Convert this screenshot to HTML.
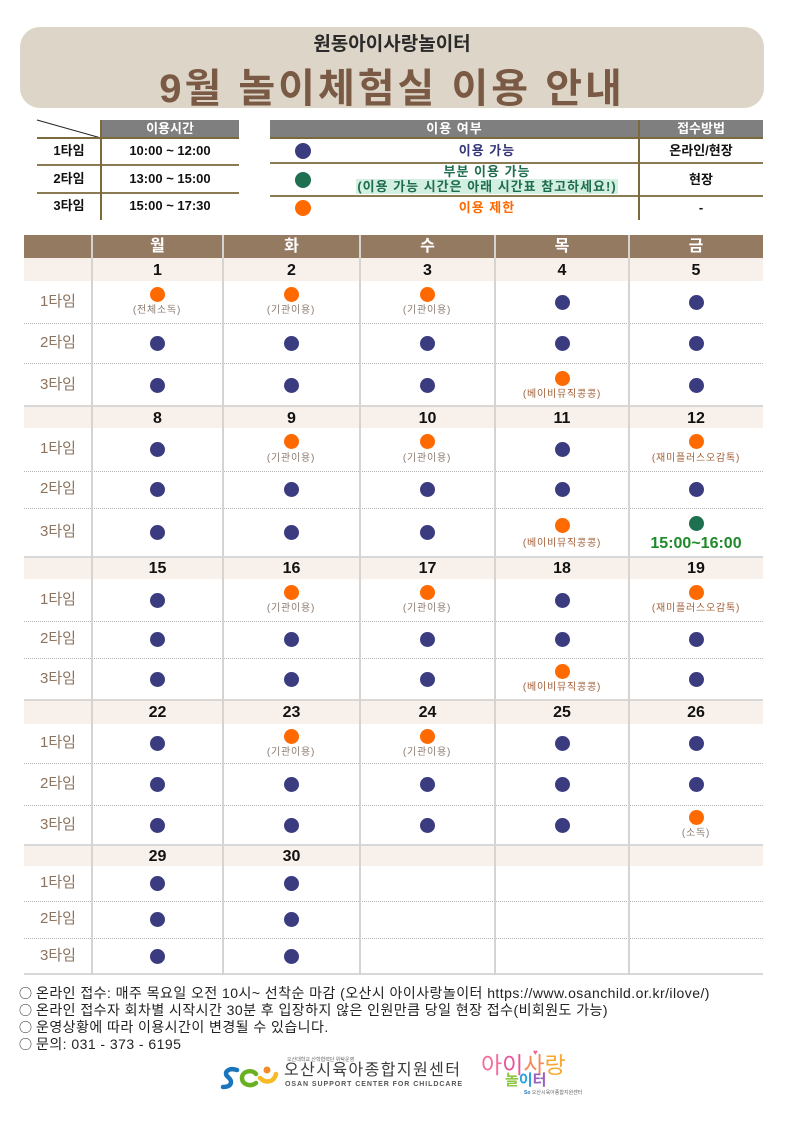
<!DOCTYPE html>
<html lang="ko">
<head>
<meta charset="utf-8">
<style>
html,body{margin:0;padding:0}
body{width:793px;height:1122px;position:relative;background:#fff;overflow:hidden;font-family:"Liberation Sans","Noto Sans CJK KR",sans-serif;color:#111}
.a{position:absolute}
.c{text-align:center;white-space:nowrap}
.d{position:absolute;width:15px;height:15px;border-radius:50%}
.n{background:#3b3c80}
.o{background:#ff6a00}
.g{background:#1e7050}
.l{position:absolute;width:140px;text-align:center;font-size:10px;letter-spacing:0.8px;line-height:12px;color:#8d7b70;white-space:nowrap}
.lb{color:#a3613a}
.rl{position:absolute;left:24px;width:68px;text-align:center;font-size:15px;line-height:20px;color:#8b735f}
.dt{position:absolute;text-align:center;font-size:16px;font-weight:bold;color:#111}
.dn{position:absolute;top:235px;height:23px;line-height:23px;text-align:center;font-size:16px;font-weight:bold;color:#fff}
.vl{position:absolute;top:235px;width:2px;height:740px;background:#d6d3d0}
.hl{position:absolute;left:24px;width:739px;height:2px;background:#d8d8d8}
.dl{position:absolute;left:24px;width:739px;height:0;border-top:1px dotted #b5b5b5}
.db{position:absolute;left:24px;width:739px;background:#f8f1eb}
.tt{position:absolute;font-size:13px;font-weight:bold;text-align:center;white-space:nowrap;line-height:16px}
.ol{position:absolute;background:#7b6a3c}
.ft{position:absolute;left:19px;font-size:14px;line-height:17px;color:#222;white-space:nowrap;letter-spacing:0.45px}
.ci{font-family:"Noto Sans CJK KR",sans-serif;font-size:13px;letter-spacing:0;margin-right:4px}
</style>
</head>
<body>

<!-- Title box -->
<div class="a" style="left:20px;top:27px;width:744px;height:81px;border-radius:20px;background:#ddd6c8"></div>
<div class="a c" style="left:20px;top:33px;width:744px;font-size:19px;line-height:24px;font-weight:bold;color:#2a2a2a">원동아이사랑놀이터</div>
<div class="a c" style="left:20px;top:66px;width:744px;font-size:40px;line-height:46px;font-weight:bold;color:#7a5a45;letter-spacing:3px">9월 놀이체험실 이용 안내</div>

<!-- Left info table -->
<svg class="a" style="left:0;top:0" width="793" height="230">
  <line x1="37" y1="120" x2="101" y2="138" stroke="#222" stroke-width="1"/>
</svg>
<div class="a" style="left:101px;top:120px;width:138px;height:18px;background:#7f7f7f"></div>
<div class="tt" style="left:101px;top:121px;width:138px;color:#fff">이용시간</div>
<div class="ol" style="left:37px;top:137px;width:202px;height:2px"></div>
<div class="ol" style="left:37px;top:164px;width:202px;height:2px;background:#8a7b52"></div>
<div class="ol" style="left:37px;top:192px;width:202px;height:2px;background:#8a7b52"></div>
<div class="ol" style="left:100px;top:120px;width:2px;height:100px"></div>
<div class="tt" style="left:37px;top:143px;width:64px">1타임</div>
<div class="tt" style="left:101px;top:143px;width:138px">10:00 ~ 12:00</div>
<div class="tt" style="left:37px;top:171px;width:64px">2타임</div>
<div class="tt" style="left:101px;top:171px;width:138px">13:00 ~ 15:00</div>
<div class="tt" style="left:37px;top:198px;width:64px">3타임</div>
<div class="tt" style="left:101px;top:198px;width:138px">15:00 ~ 17:30</div>

<!-- Right legend table -->
<div class="a" style="left:270px;top:120px;width:493px;height:18px;background:#7f7f7f"></div>
<div class="tt" style="left:270px;top:121px;width:369px;color:#fff;letter-spacing:1px">이용 여부</div>
<div class="tt" style="left:639px;top:121px;width:124px;color:#fff">접수방법</div>
<div class="ol" style="left:270px;top:137px;width:493px;height:2px"></div>
<div class="ol" style="left:270px;top:162px;width:493px;height:2px;background:#8a7b52"></div>
<div class="ol" style="left:270px;top:195px;width:493px;height:2px;background:#8a7b52"></div>
<div class="ol" style="left:638px;top:120px;width:2px;height:100px"></div>
<div class="d n" style="left:295px;top:143px;width:16px;height:16px"></div>
<div class="d g" style="left:295px;top:172px;width:16px;height:16px"></div>
<div class="d o" style="left:295px;top:200px;width:16px;height:16px"></div>
<div class="tt" style="left:335px;top:143px;width:304px;color:#35357a;letter-spacing:1px">이용 가능</div>
<div class="tt" style="left:335px;top:164px;width:304px;color:#1e6e4e;letter-spacing:1px">부분 이용 가능</div>
<div class="tt" style="left:335px;top:179px;width:304px;color:#1e6e4e;letter-spacing:1px"><span style="background:#d3efe2;padding:0 1px">(이용 가능 시간은 아래 시간표 참고하세요!)</span></div>
<div class="tt" style="left:335px;top:200px;width:304px;color:#ff6a00;letter-spacing:1px">이용 제한</div>
<div class="tt" style="left:639px;top:143px;width:124px">온라인/현장</div>
<div class="tt" style="left:639px;top:172px;width:124px">현장</div>
<div class="tt" style="left:639px;top:200px;width:124px">-</div>

<!-- Calendar header -->
<div class="a" style="left:24px;top:235px;width:739px;height:23px;background:#957a62"></div>
<div class="dn" style="left:92px;width:131px">월</div>
<div class="dn" style="left:223px;width:137px">화</div>
<div class="dn" style="left:360px;width:135px">수</div>
<div class="dn" style="left:495px;width:134px">목</div>
<div class="dn" style="left:629px;width:134px">금</div>

<!-- date row backgrounds -->
<div class="db" style="top:258px;height:23px"></div>
<div class="db" style="top:407px;height:21px"></div>
<div class="db" style="top:557px;height:22px"></div>
<div class="db" style="top:700px;height:24px"></div>
<div class="db" style="top:845px;height:21px"></div>

<!-- dotted lines -->
<div class="dl" style="top:323px"></div>
<div class="dl" style="top:363px"></div>
<div class="dl" style="top:471px"></div>
<div class="dl" style="top:508px"></div>
<div class="dl" style="top:621px"></div>
<div class="dl" style="top:658px"></div>
<div class="dl" style="top:763px"></div>
<div class="dl" style="top:805px"></div>
<div class="dl" style="top:901px"></div>
<div class="dl" style="top:938px"></div>

<!-- solid week separators -->
<div class="hl" style="top:405px"></div>
<div class="hl" style="top:556px"></div>
<div class="hl" style="top:699px"></div>
<div class="hl" style="top:844px"></div>
<div class="hl" style="top:973px"></div>

<!-- vertical lines -->
<div class="vl" style="left:91px"></div>
<div class="vl" style="left:222px"></div>
<div class="vl" style="left:359px"></div>
<div class="vl" style="left:494px"></div>
<div class="vl" style="left:628px"></div>

<!-- Week 1 -->
<div class="dt" style="left:92px;width:131px;top:259px;line-height:23px">1</div>
<div class="dt" style="left:223px;width:137px;top:259px;line-height:23px">2</div>
<div class="dt" style="left:360px;width:135px;top:259px;line-height:23px">3</div>
<div class="dt" style="left:495px;width:134px;top:259px;line-height:23px">4</div>
<div class="dt" style="left:629px;width:134px;top:259px;line-height:23px">5</div>
<div class="rl" style="top:292px">1타임</div>
<div class="rl" style="top:333px">2타임</div>
<div class="rl" style="top:375px">3타임</div>
<div class="d o" style="left:149.5px;top:286.5px"></div><div class="l" style="left:87px;top:305px">(전체소독)</div>
<div class="d o" style="left:283.5px;top:286.5px"></div><div class="l" style="left:221px;top:305px">(기관이용)</div>
<div class="d o" style="left:419.5px;top:286.5px"></div><div class="l" style="left:357px;top:305px">(기관이용)</div>
<div class="d n" style="left:554.5px;top:294.5px"></div>
<div class="d n" style="left:688.5px;top:294.5px"></div>
<div class="d n" style="left:149.5px;top:335.5px"></div>
<div class="d n" style="left:283.5px;top:335.5px"></div>
<div class="d n" style="left:419.5px;top:335.5px"></div>
<div class="d n" style="left:554.5px;top:335.5px"></div>
<div class="d n" style="left:688.5px;top:335.5px"></div>
<div class="d n" style="left:149.5px;top:377.5px"></div>
<div class="d n" style="left:283.5px;top:377.5px"></div>
<div class="d n" style="left:419.5px;top:377.5px"></div>
<div class="d o" style="left:554.5px;top:370.5px"></div><div class="l lb" style="left:492px;top:389px">(베이비뮤직콩콩)</div>
<div class="d n" style="left:688.5px;top:377.5px"></div>

<!-- Week 2 -->
<div class="dt" style="left:92px;width:131px;top:408px;line-height:21px">8</div>
<div class="dt" style="left:223px;width:137px;top:408px;line-height:21px">9</div>
<div class="dt" style="left:360px;width:135px;top:408px;line-height:21px">10</div>
<div class="dt" style="left:495px;width:134px;top:408px;line-height:21px">11</div>
<div class="dt" style="left:629px;width:134px;top:408px;line-height:21px">12</div>
<div class="rl" style="top:439px">1타임</div>
<div class="rl" style="top:479px">2타임</div>
<div class="rl" style="top:522px">3타임</div>
<div class="d n" style="left:149.5px;top:441.5px"></div>
<div class="d o" style="left:283.5px;top:433.5px"></div><div class="l" style="left:221px;top:453px">(기관이용)</div>
<div class="d o" style="left:419.5px;top:433.5px"></div><div class="l" style="left:357px;top:453px">(기관이용)</div>
<div class="d n" style="left:554.5px;top:441.5px"></div>
<div class="d o" style="left:688.5px;top:433.5px"></div><div class="l lb" style="left:626px;top:453px">(재미플러스오감톡)</div>
<div class="d n" style="left:149.5px;top:481.5px"></div>
<div class="d n" style="left:283.5px;top:481.5px"></div>
<div class="d n" style="left:419.5px;top:481.5px"></div>
<div class="d n" style="left:554.5px;top:481.5px"></div>
<div class="d n" style="left:688.5px;top:481.5px"></div>
<div class="d n" style="left:149.5px;top:524.5px"></div>
<div class="d n" style="left:283.5px;top:524.5px"></div>
<div class="d n" style="left:419.5px;top:524.5px"></div>
<div class="d o" style="left:554.5px;top:517.5px"></div><div class="l lb" style="left:492px;top:538px">(베이비뮤직콩콩)</div>
<div class="d g" style="left:688.5px;top:515.5px"></div>
<div class="a c" style="left:629px;top:534px;width:134px;font-size:16px;line-height:20px;font-weight:bold;color:#1f8a2a">15:00~16:00</div>

<!-- Week 3 -->
<div class="dt" style="left:92px;width:131px;top:558px;line-height:22px">15</div>
<div class="dt" style="left:223px;width:137px;top:558px;line-height:22px">16</div>
<div class="dt" style="left:360px;width:135px;top:558px;line-height:22px">17</div>
<div class="dt" style="left:495px;width:134px;top:558px;line-height:22px">18</div>
<div class="dt" style="left:629px;width:134px;top:558px;line-height:22px">19</div>
<div class="rl" style="top:590px">1타임</div>
<div class="rl" style="top:629px">2타임</div>
<div class="rl" style="top:669px">3타임</div>
<div class="d n" style="left:149.5px;top:592.5px"></div>
<div class="d o" style="left:283.5px;top:584.5px"></div><div class="l" style="left:221px;top:603px">(기관이용)</div>
<div class="d o" style="left:419.5px;top:584.5px"></div><div class="l" style="left:357px;top:603px">(기관이용)</div>
<div class="d n" style="left:554.5px;top:592.5px"></div>
<div class="d o" style="left:688.5px;top:584.5px"></div><div class="l lb" style="left:626px;top:603px">(재미플러스오감톡)</div>
<div class="d n" style="left:149.5px;top:631.5px"></div>
<div class="d n" style="left:283.5px;top:631.5px"></div>
<div class="d n" style="left:419.5px;top:631.5px"></div>
<div class="d n" style="left:554.5px;top:631.5px"></div>
<div class="d n" style="left:688.5px;top:631.5px"></div>
<div class="d n" style="left:149.5px;top:671.5px"></div>
<div class="d n" style="left:283.5px;top:671.5px"></div>
<div class="d n" style="left:419.5px;top:671.5px"></div>
<div class="d o" style="left:554.5px;top:663.5px"></div><div class="l lb" style="left:492px;top:682px">(베이비뮤직콩콩)</div>
<div class="d n" style="left:688.5px;top:671.5px"></div>

<!-- Week 4 -->
<div class="dt" style="left:92px;width:131px;top:701px;line-height:24px">22</div>
<div class="dt" style="left:223px;width:137px;top:701px;line-height:24px">23</div>
<div class="dt" style="left:360px;width:135px;top:701px;line-height:24px">24</div>
<div class="dt" style="left:495px;width:134px;top:701px;line-height:24px">25</div>
<div class="dt" style="left:629px;width:134px;top:701px;line-height:24px">26</div>
<div class="rl" style="top:733px">1타임</div>
<div class="rl" style="top:774px">2타임</div>
<div class="rl" style="top:815px">3타임</div>
<div class="d n" style="left:149.5px;top:735.5px"></div>
<div class="d o" style="left:283.5px;top:728.5px"></div><div class="l" style="left:221px;top:747px">(기관이용)</div>
<div class="d o" style="left:419.5px;top:728.5px"></div><div class="l" style="left:357px;top:747px">(기관이용)</div>
<div class="d n" style="left:554.5px;top:735.5px"></div>
<div class="d n" style="left:688.5px;top:735.5px"></div>
<div class="d n" style="left:149.5px;top:776.5px"></div>
<div class="d n" style="left:283.5px;top:776.5px"></div>
<div class="d n" style="left:419.5px;top:776.5px"></div>
<div class="d n" style="left:554.5px;top:776.5px"></div>
<div class="d n" style="left:688.5px;top:776.5px"></div>
<div class="d n" style="left:149.5px;top:817.5px"></div>
<div class="d n" style="left:283.5px;top:817.5px"></div>
<div class="d n" style="left:419.5px;top:817.5px"></div>
<div class="d n" style="left:554.5px;top:817.5px"></div>
<div class="d o" style="left:688.5px;top:809.5px"></div><div class="l" style="left:626px;top:828px">(소독)</div>

<!-- Week 5 -->
<div class="dt" style="left:92px;width:131px;top:846px;line-height:21px">29</div>
<div class="dt" style="left:223px;width:137px;top:846px;line-height:21px">30</div>
<div class="rl" style="top:873px">1타임</div>
<div class="rl" style="top:909px">2타임</div>
<div class="rl" style="top:946px">3타임</div>
<div class="d n" style="left:149.5px;top:875.5px"></div>
<div class="d n" style="left:283.5px;top:875.5px"></div>
<div class="d n" style="left:149.5px;top:911.5px"></div>
<div class="d n" style="left:283.5px;top:911.5px"></div>
<div class="d n" style="left:149.5px;top:948.5px"></div>
<div class="d n" style="left:283.5px;top:948.5px"></div>

<!-- Footer notes -->
<div class="ft" style="top:984px"><span class="ci">○</span>온라인 접수: 매주 목요일 오전 10시~ 선착순 마감 (오산시 아이사랑놀이터 https://www.osanchild.or.kr/ilove/)</div>
<div class="ft" style="top:1001px"><span class="ci">○</span>온라인 접수자 회차별 시작시간 30분 후 입장하지 않은 인원만큼 당일 현장 접수(비회원도 가능)</div>
<div class="ft" style="top:1018px"><span class="ci">○</span>운영상황에 따라 이용시간이 변경될 수 있습니다.</div>
<div class="ft" style="top:1035px"><span class="ci">○</span>문의: 031 - 373 - 6195</div>

<!-- Logos -->
<svg class="a" style="left:220px;top:1062px" width="62" height="30" viewBox="0 0 62 30">
  <path d="M17 8 C8 5 3 11 8 15 C13 19 12 25 3 25" fill="none" stroke="#1b75bc" stroke-width="4.5" stroke-linecap="round"/>
  <path d="M36 12 C32 7 22 9 22 16 C22 23 31 25 36 21" fill="none" stroke="#6ab023" stroke-width="4.5" stroke-linecap="round"/>
  <path d="M40 16 C46 22 54 20 56 12" fill="none" stroke="#f7b924" stroke-width="4.5" stroke-linecap="round"/>
  <circle cx="47" cy="8" r="3.5" fill="#f28c28"/>
</svg>
<div class="a" style="left:287px;top:1057px;font-size:5px;line-height:6px;color:#666;white-space:nowrap">오산대학교 산학협력단 위탁운영</div>
<div class="a" style="left:284px;top:1061px;font-size:16px;line-height:20px;color:#3a3a3a;white-space:nowrap;letter-spacing:1.4px">오산시육아종합지원센터</div>
<div class="a" style="left:285px;top:1081px;font-size:7px;line-height:8px;font-weight:bold;color:#555;letter-spacing:0.95px;white-space:nowrap">OSAN SUPPORT CENTER FOR CHILDCARE</div>

<div class="a" style="left:533px;top:1049px;font-size:8px;line-height:8px;color:#f06292">♥</div>
<div class="a" style="left:481px;top:1053px;font-size:23px;line-height:24px;white-space:nowrap;letter-spacing:0"><span style="color:#f36c9b">아</span><span style="color:#e7559a">이</span><span style="color:#f58a5b">사</span><span style="color:#f7a830">랑</span></div>
<div class="a" style="left:505px;top:1073px;font-size:15px;line-height:16px;font-weight:bold;white-space:nowrap"><span style="color:#8cc63f">놀</span><span style="color:#29a3e0">이</span><span style="color:#9b5fc0">터</span></div>
<div class="a" style="left:524px;top:1090px;font-size:5px;line-height:6px;color:#666;white-space:nowrap"><span style="color:#1b75bc;font-weight:bold">So</span> 오산시육아종합지원센터</div>

</body>
</html>
